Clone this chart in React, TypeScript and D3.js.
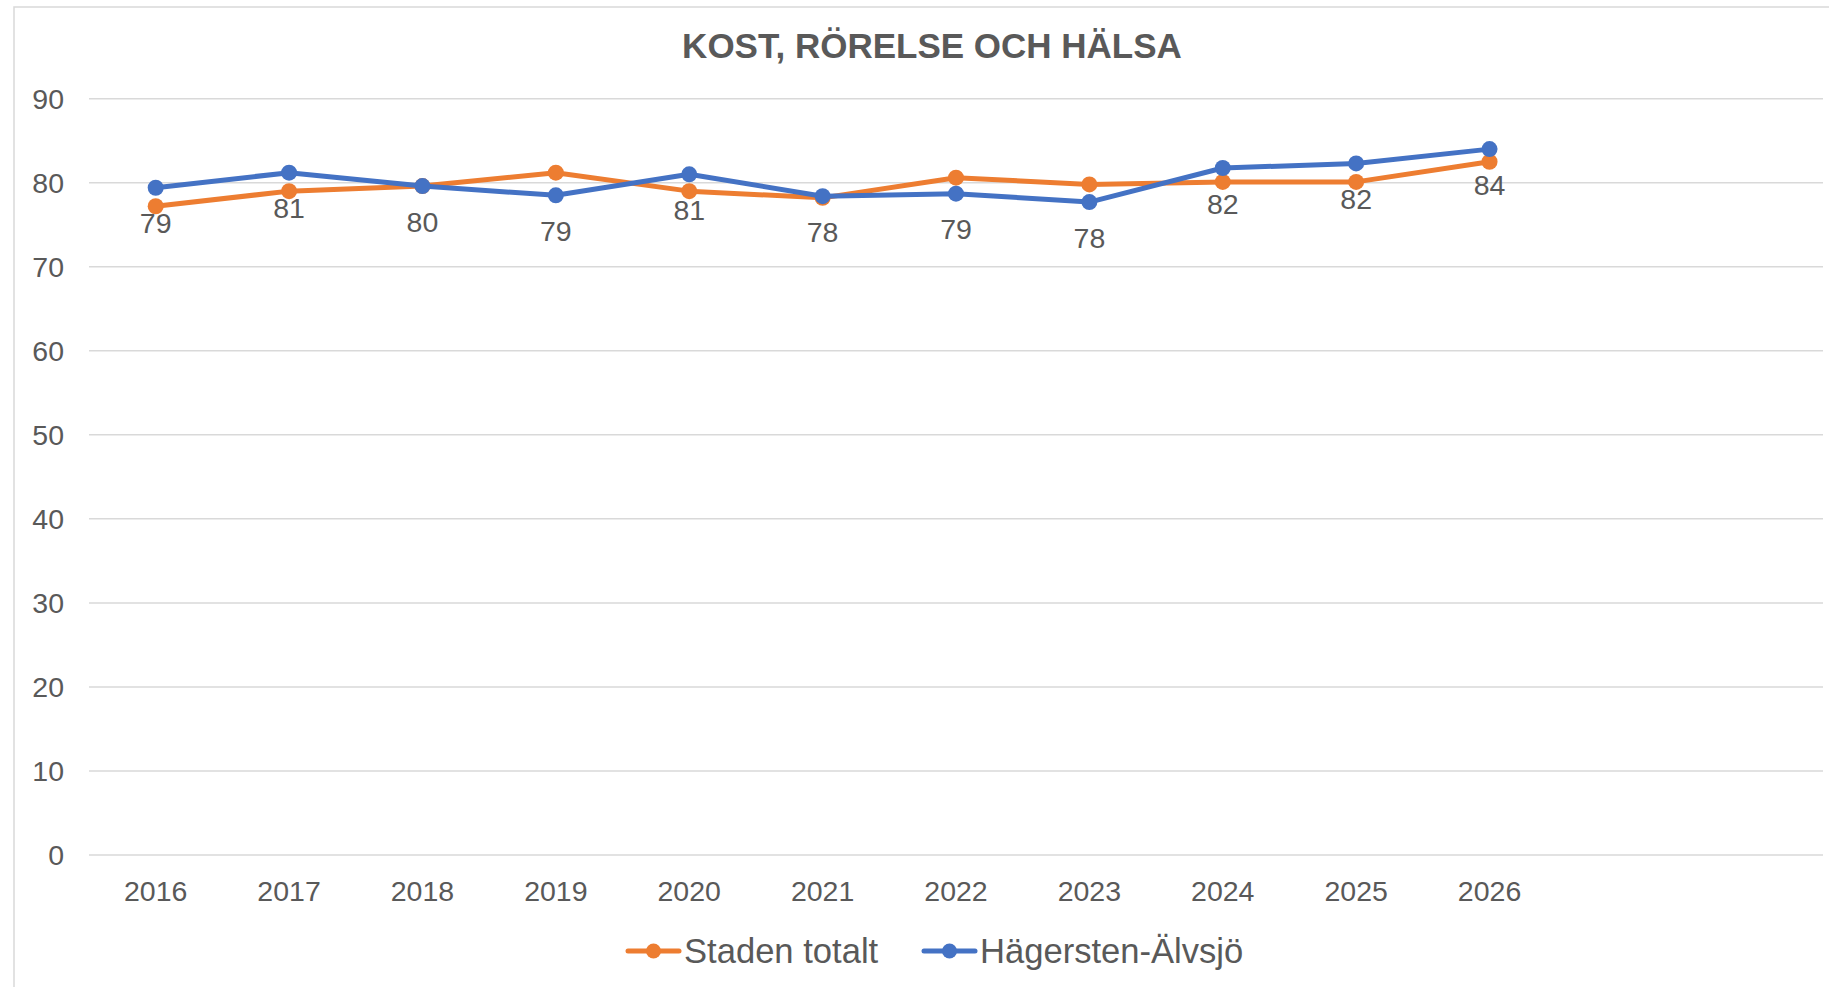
import React from "react";
import * as d3 from "d3";

const title = "KOST, RÖRELSE OCH HÄLSA";
const years = ["2016", "2017", "2018", "2019", "2020", "2021", "2022", "2023", "2024", "2025", "2026"];
const extraSlots = ["2027", "2028"]; // empty category slots on the axis
const stadenTotalt = [77.2, 79.0, 79.6, 81.2, 79.0, 78.2, 80.6, 79.8, 80.1, 80.1, 82.5];
const hagerstenAlvsjo = [79.4, 81.2, 79.6, 78.5, 81.0, 78.4, 78.7, 77.7, 81.75, 82.3, 84.0];
const yTicks = [0, 10, 20, 30, 40, 50, 60, 70, 80, 90];
const seriesNames = ["Staden totalt", "Hägersten-Älvsjö"];

const W = 1829;
const H = 987;
const ORANGE = "#ED7D31";
const BLUE = "#4472C4";
const TEXT = "#595959";
const GRID = "#d9d9d9";
const FONT = "'Liberation Sans', Arial, sans-serif";

export default function App() {
  const allSlots = [...years, ...extraSlots];
  const x = d3.scaleBand<string>().domain(allSlots).range([89, 1823]).padding(0);
  const cx = (c: string) => (x(c) as number) + x.bandwidth() / 2;
  const y = d3.scaleLinear().domain([0, 90]).range([855, 98.7]);

  const line = d3
    .line<number>()
    .x((_, i) => cx(years[i]))
    .y((d) => y(d));

  const series = [
    { name: seriesNames[0], values: stadenTotalt, color: ORANGE },
    { name: seriesNames[1], values: hagerstenAlvsjo, color: BLUE },
  ];

  const fmt = d3.format(".0f");

  const legendItems = [
    { name: seriesNames[0], color: ORANGE, x0: 628 },
    { name: seriesNames[1], color: BLUE, x0: 924 },
  ];

  return (
    <div style={{ position: "fixed", left: 0, top: 0 }}>
      <svg width={W} height={H} style={{ display: "block", background: "#fff" }}>
        <rect x={14} y={7} width={1840} height={1000} fill="#fff" stroke={GRID} strokeWidth={1.5} />
        <text
          x={932}
          y={58}
          textAnchor="middle"
          fontFamily={FONT}
          fontWeight="bold"
          fontSize={35}
          fill={TEXT}
        >
          {title}
        </text>

        {/* gridlines & y ticks */}
        {yTicks.map((t) => (
          <g key={t}>
            <line x1={89} x2={1823} y1={y(t)} y2={y(t)} stroke={GRID} strokeWidth={1.5} />
            <text x={64} y={y(t) + 10} textAnchor="end" fontFamily={FONT} fontSize={28.5} fill={TEXT}>
              {t}
            </text>
          </g>
        ))}

        {/* x tick labels */}
        {years.map((c) => (
          <text key={c} x={cx(c)} y={901} textAnchor="middle" fontFamily={FONT} fontSize={28.5} fill={TEXT}>
            {c}
          </text>
        ))}

        {/* series */}
        {series.map((s) => (
          <g key={s.name}>
            <path d={line(s.values) || ""} fill="none" stroke={s.color} strokeWidth={5} strokeLinejoin="round" strokeLinecap="round" />
            {s.values.map((v, i) => (
              <circle key={i} cx={cx(years[i])} cy={y(v)} r={8} fill={s.color} />
            ))}
          </g>
        ))}

        {/* data labels for Hägersten-Älvsjö */}
        {hagerstenAlvsjo.map((v, i) => (
          <text
            key={i}
            x={cx(years[i])}
            y={y(v) + 45.5}
            textAnchor="middle"
            fontFamily={FONT}
            fontSize={28.5}
            fill={TEXT}
          >
            {fmt(v)}
          </text>
        ))}

        {/* legend */}
        {legendItems.map((l) => (
          <g key={l.name}>
            <line x1={l.x0} x2={l.x0 + 51} y1={951} y2={951} stroke={l.color} strokeWidth={5} strokeLinecap="round" />
            <circle cx={l.x0 + 25.5} cy={951} r={7.5} fill={l.color} />
            <text x={l.x0 + 56} y={963} fontFamily={FONT} fontSize={34.6} fill={TEXT}>
              {l.name}
            </text>
          </g>
        ))}
      </svg>
    </div>
  );
}
